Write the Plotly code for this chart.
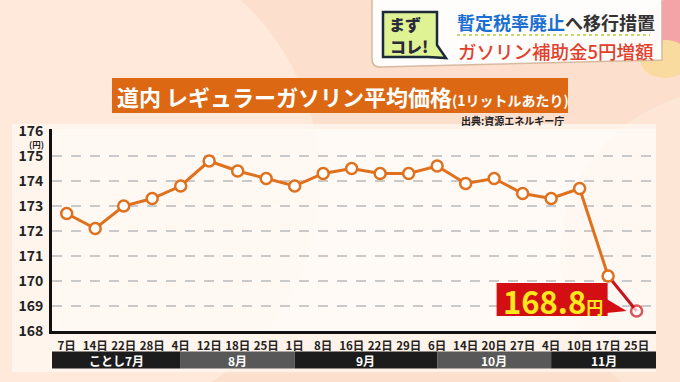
import plotly.graph_objects as go

# ---------------- data ----------------
day_labels = ["7日", "14日", "22日", "28日",
              "4日", "12日", "18日", "25日",
              "1日", "8日", "16日", "22日", "29日",
              "6日", "14日", "20日", "27日",
              "4日", "10日", "17日", "25日"]
prices = [172.7, 172.1, 173.0, 173.3,
          173.8, 174.8, 174.4, 174.1,
          173.8, 174.3, 174.5, 174.3, 174.3,
          174.6, 173.9, 174.1, 173.5,
          173.3, 173.7, 170.2, 168.8]
month_labels = ["ことし7月", "8月", "9月", "10月", "11月"]
month_starts = [0, 4, 8, 13, 17]   # index of first week in each month
y_ticks = [168, 169, 170, 171, 172, 173, 174, 175, 176]

W, H = 680, 382
L, R, T, B = 52, 656, 129, 331   # plot area in pixels

def px(x):
    return (x - L) / (R - L)

def py(y):
    return (B - y) / (B - T)

FONT = "Noto Sans CJK JP"
ORANGE = "#e0701c"
RED = "#c8121c"

n = len(prices)
idx = list(range(n))

fig = go.Figure()

# red final segment (drawn first so the orange marker sits on top)
fig.add_trace(go.Scatter(
    x=idx[-2:], y=prices[-2:], mode="lines+markers",
    line=dict(color=RED, width=3),
    marker=dict(size=[0, 11], color="white", line=dict(color=RED, width=2.5)),
    hoverinfo="skip", showlegend=False))
# orange main line
fig.add_trace(go.Scatter(
    x=idx[:-1], y=prices[:-1], mode="lines+markers",
    line=dict(color=ORANGE, width=3),
    marker=dict(size=11, color="white", line=dict(color=ORANGE, width=2.5)),
    hoverinfo="skip", showlegend=False))

shapes = []
annotations = []

# background decorations
shapes.append(dict(type="circle", xref="paper", yref="paper", layer="below",
                   x0=px(-150), x1=px(320), y0=py(420), y1=py(-60),
                   fillcolor="rgba(255,240,230,0.55)", line=dict(width=0)))
shapes.append(dict(type="circle", xref="paper", yref="paper", layer="below",
                   x0=px(560), x1=px(900), y0=py(420), y1=py(90),
                   fillcolor="rgba(255,238,226,0.5)", line=dict(width=0)))
# light card behind chart
shapes.append(dict(type="rect", xref="paper", yref="paper", layer="below",
                   x0=px(12), x1=px(656), y0=py(372), y1=py(124),
                   fillcolor="rgba(255,248,243,0.75)", line=dict(width=0)))

# month bands under the axis
x_left = -0.516
x_right = 20.68
for i, (lab, s) in enumerate(zip(month_labels, month_starts)):
    x0 = x_left if i == 0 else s
    x1 = x_right if i == len(month_labels) - 1 else month_starts[i + 1]
    col = "#1c1c1c" if i % 2 == 0 else "#585858"
    shapes.append(dict(type="rect", xref="x", yref="paper",
                       x0=x0, x1=x1, y0=py(368.5), y1=py(351.5),
                       fillcolor=col, line=dict(width=0)))
    annotations.append(dict(x=(x0 + x1) / 2, y=py(360), xref="x", yref="paper",
                            xanchor="center", yanchor="middle",
                            text=lab, showarrow=False,
                            font=dict(family=FONT, size=12, color="white", weight=700)))

# title bar
shapes.append(dict(type="rect", xref="paper", yref="paper",
                   x0=px(112), x1=px(568), y0=py(113), y1=py(78),
                   fillcolor="#dc6814", line=dict(width=0)))
annotations.append(dict(x=px(115), y=py(96), xref="paper", yref="paper",
                        xanchor="left", yanchor="middle", showarrow=False,
                        text="道内 レギュラーガソリン平均価格<span style='font-size:14px'>(1リットルあたり)</span>",
                        font=dict(family=FONT, size=22, color="white", weight=700)))
annotations.append(dict(x=px(566), y=py(120), xref="paper", yref="paper",
                        xanchor="right", yanchor="middle", showarrow=False,
                        text="出典:資源エネルギー庁",
                        font=dict(family=FONT, size=10, color="#222", weight=700)))

# (円) unit under 176
annotations.append(dict(x=px(36), y=py(143.5), xref="paper", yref="paper",
                        xanchor="center", yanchor="middle", showarrow=False,
                        text="(円)", font=dict(family=FONT, size=8.5, color="#222", weight=700)))

# header box top-right
shapes.append(dict(type="circle", xref="paper", yref="paper",
                   x0=px(648), x1=px(700), y0=py(50), y1=py(-2),
                   fillcolor="#f4a3a6", line=dict(width=0)))
shapes.append(dict(type="circle", xref="paper", yref="paper",
                   x0=px(640), x1=px(690), y0=py(78), y1=py(40),
                   fillcolor="#f9dba0", line=dict(width=0)))
shapes.append(dict(type="path", xref="paper", yref="paper",
                   path=("M {a},{b} L {c},{b} L {c},{d} L {e},{f} Q {g},{f} {g},{h} Z").format(
                       a=px(372), b=py(-5), c=px(662), d=py(60), e=px(380), f=py(67),
                       g=px(372), h=py(59)),
                   fillcolor="rgba(255,255,255,0.93)", line=dict(color="#d8b9a0", width=1.5)))
# badge
shapes.append(dict(type="path", xref="paper", yref="paper",
                   path=("M {x0},{y0} L {x1},{y0} L {x1},{y2} L {x3},{y3} L {x4},{y1} L {x0},{y1} Z").format(
                       x0=px(383), x1=px(437), x3=px(446), x4=px(428),
                       y0=py(12), y1=py(57), y2=py(45), y3=py(58)),
                   fillcolor="#dff294", line=dict(color="#1d2a3a", width=2.5)))
annotations.append(dict(x=px(405), y=py(24), xref="paper", yref="paper", showarrow=False,
                        xanchor="center", yanchor="middle",
                        text="まず", font=dict(family=FONT, size=16, color="#2a2a3a", weight=900)))
annotations.append(dict(x=px(409), y=py(46), xref="paper", yref="paper", showarrow=False,
                        xanchor="center", yanchor="middle",
                        text="コレ!", font=dict(family=FONT, size=16, color="#2a2a3a", weight=900)))
annotations.append(dict(x=px(455), y=py(22), xref="paper", yref="paper",
                        xanchor="left", yanchor="middle", showarrow=False,
                        text="<span style='color:#1c6fd2'>暫定税率廃止</span>へ移行措置",
                        font=dict(family=FONT, size=18, color="#333333", weight=700)))
shapes.append(dict(type="line", xref="paper", yref="paper",
                   x0=px(457), x1=px(650), y0=py(35), y1=py(35),
                   line=dict(color="#c9d86a", width=2, dash="dot")))
annotations.append(dict(x=px(456), y=py(51), xref="paper", yref="paper",
                        xanchor="left", yanchor="middle", showarrow=False,
                        text="ガソリン補助金5円増額",
                        font=dict(family=FONT, size=18.5, color="#e2402c", weight=500)))

# callout for latest value (anchored at the last point, pixel offsets)
last_x, last_y = idx[-1], prices[-1]
shapes.append(dict(type="rect", xref="x", yref="y",
                   xsizemode="pixel", ysizemode="pixel",
                   xanchor=last_x, yanchor=last_y,
                   x0=-140, x1=-29, y0=-5, y1=28,
                   fillcolor="#d40f14", line=dict(width=0)))
shapes.append(dict(type="path", xref="x", yref="y",
                   xsizemode="pixel", ysizemode="pixel",
                   xanchor=last_x, yanchor=last_y,
                   path="M -30,12 L -10,0 L -30,-2 Z",
                   fillcolor="#d40f14", line=dict(width=0)))
annotations.append(dict(x=last_x, y=last_y, xref="x", yref="y",
                        xshift=-84, yshift=11, showarrow=False,
                        xanchor="center", yanchor="middle",
                        text=f"{last_y:.1f}<span style='font-size:17px'>円</span>",
                        font=dict(family=FONT, size=31, color="#ffe81c", weight=700)))

fig.update_layout(
    width=W, height=H,
    margin=dict(l=L, r=W - R, t=T, b=H - B, pad=0),
    paper_bgcolor="#fcdfcc",
    plot_bgcolor="white",
    shapes=shapes,
    annotations=annotations,
    showlegend=False,
    xaxis=dict(range=[x_left, x_right], tickmode="array", tickvals=idx, ticktext=day_labels,
               showgrid=False, zeroline=False, showline=True, linecolor="#111", linewidth=3,
               ticks="", ticklabelstandoff=2,
               tickfont=dict(family=FONT, size=11.5, color="#222", weight=700), fixedrange=True),
    yaxis=dict(range=[168, 176.08], tickmode="array", tickvals=y_ticks,
               ticktext=[str(v) for v in y_ticks],
               showgrid=False, zeroline=False, showline=True, linecolor="#111", linewidth=3,
               ticks="", ticklabelstandoff=3,
               tickfont=dict(family=FONT, size=14, color="#222", weight=700),
               minor=dict(tickvals=y_ticks[1:-1], showgrid=True, gridcolor="#c9c9c9",
                          gridwidth=1.5, griddash="10px,9px"),
               fixedrange=True),
)

fig.write_html("out.html", config={"displayModeBar": False},
               post_script="document.body.style.margin='0px';document.body.style.overflow='hidden';")
